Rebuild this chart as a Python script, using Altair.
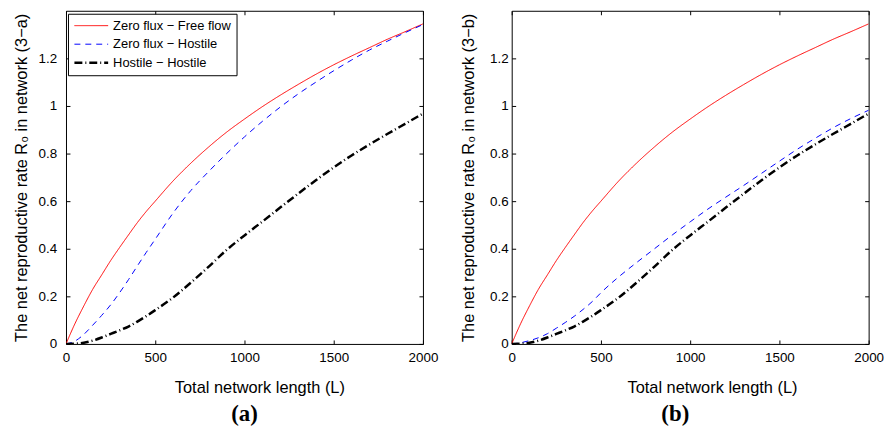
import altair as alt
import pandas as pd

# ---- data ----
L = [0, 50, 100, 150, 200, 250, 300, 350, 400, 450, 500, 600, 700, 800, 900,
     1000, 1100, 1200, 1300, 1400, 1500, 1600, 1700, 1800, 1900, 2000]

red = [0, 0.085, 0.16, 0.23, 0.29, 0.35, 0.405, 0.458, 0.51, 0.557, 0.60,
       0.685, 0.76, 0.828, 0.89, 0.945, 0.997, 1.045, 1.09, 1.133, 1.173,
       1.21, 1.245, 1.28, 1.312, 1.345]

blue_a = [0, 0.012, 0.04, 0.079, 0.12, 0.164, 0.215, 0.27, 0.328, 0.385, 0.44,
          0.55, 0.645, 0.725, 0.80, 0.87, 0.935, 0.995, 1.05, 1.10, 1.148,
          1.193, 1.235, 1.272, 1.308, 1.342]

blue_b = [0, 0.005, 0.014, 0.026, 0.043, 0.066, 0.09, 0.116, 0.145, 0.177, 0.215,
          0.282, 0.342, 0.40, 0.458, 0.513, 0.567, 0.617, 0.666, 0.717, 0.768,
          0.818, 0.864, 0.908, 0.947, 0.982]

black = [0, 0.001, 0.005, 0.014, 0.027, 0.042, 0.057, 0.073, 0.094, 0.117, 0.142,
         0.195, 0.258, 0.325, 0.395, 0.456, 0.514, 0.573, 0.631, 0.688, 0.742,
         0.792, 0.838, 0.882, 0.925, 0.968]

series = ["Zero flux \u2212 Free flow", "Zero flux \u2212 Hostile", "Hostile \u2212 Hostile"]
colors = ["#ff0000", "#0000ff", "#000000"]
dashes = [[1, 0], [6, 5], [8, 3, 1, 3]]
widths = [1, 1, 2.5]

x_ticks = [0, 500, 1000, 1500, 2000]
y_ticks = [0, 0.2, 0.4, 0.6, 0.8, 1.0, 1.2]

FONT = "Liberation Sans"


def make_df(blue):
    rows = []
    for s, vals in zip(series, [red, blue, black]):
        for l, v in zip(L, vals):
            rows.append({"L": l, "R": v, "series": s})
    return pd.DataFrame(rows)


def panel(df, ytitle, label, y_lab_pad, y_title_pad, x_title_x, label_dx):
    xs = alt.Scale(domain=[0, 2000], nice=False, zero=False)
    ys = alt.Scale(domain=[0, 1.4], nice=False, zero=False)
    leg = alt.Legend(
        title=None, orient="none", legendX=2, legendY=3,
        symbolType="stroke", symbolSize=1156, clipHeight=14,
        labelFont=FONT, labelFontSize=13,
        labelColor="black", strokeColor="black", fillColor="white",
        padding=5, rowPadding=4.7, labelOffset=3.5, labelLimit=300,
    )
    lines = alt.Chart(df).mark_line(interpolate="monotone", clip=True).encode(
        x=alt.X("L:Q", scale=xs, axis=alt.Axis(
            orient="bottom", values=x_ticks, format="d", title="Total network length (L)",
            tickSize=0, domain=False, grid=False, labelPadding=7, titlePadding=15,
            titleX=x_title_x, labelFlush=False)),
        y=alt.Y("R:Q", scale=ys, axis=alt.Axis(
            orient="left", values=y_ticks, format="~g", title=ytitle,
            tickSize=0, domain=False, grid=False, labelPadding=y_lab_pad,
            titlePadding=y_title_pad, labelFlush=False)),
        color=alt.Color("series:N", scale=alt.Scale(domain=series, range=colors), legend=leg),
        strokeDash=alt.StrokeDash("series:N", scale=alt.Scale(domain=series, range=dashes), legend=leg),
        strokeWidth=alt.StrokeWidth("series:N", scale=alt.Scale(type="ordinal", domain=series, range=widths),
                                    legend=leg),
    )
    tick_common = dict(tickSize=4, labels=False, domain=False, title=None, grid=False,
                       tickColor="black", offset=-4)
    ticks_bl = alt.Chart(df).mark_point(opacity=0).encode(
        x=alt.X("L:Q", scale=xs, axis=alt.Axis(orient="bottom", values=x_ticks, **tick_common)),
        y=alt.Y("R:Q", scale=ys, axis=alt.Axis(orient="left", values=y_ticks, **tick_common)),
    )
    ticks_tr = alt.Chart(df).mark_point(opacity=0).encode(
        x=alt.X("L:Q", scale=xs, axis=alt.Axis(orient="top", values=x_ticks, **tick_common)),
        y=alt.Y("R:Q", scale=ys, axis=alt.Axis(orient="right", values=y_ticks, **tick_common)),
    )
    return alt.layer(lines, ticks_bl, ticks_tr).resolve_axis(
        x="independent", y="independent"
    ).properties(
        width=360, height=336,
        title=alt.TitleParams(label, orient="bottom", font="Liberation Serif", fontSize=23,
                              fontWeight="bold", color="black", frame="group",
                              anchor="middle", offset=8, dx=label_dx),
    )


pa = panel(make_df(blue_a), "The net reproductive rate R\u2080 in network (3\u2212a)", "(a)",
           9.5, 9, 195, 0)
pb = panel(make_df(blue_b), "The net reproductive rate R\u2080 in network (3\u2212b)", "(b)",
           3.5, 13, 202, -15)

chart = alt.hconcat(pa, pb, spacing=21.5).properties(
    padding={"left": 4.5, "top": 0, "right": 0, "bottom": 0}
).configure_view(
    stroke="black", strokeWidth=1
).configure_axis(
    labelFont=FONT, titleFont=FONT, labelFontSize=13.5, titleFontSize=16.5,
    labelColor="black", titleColor="black", titleFontWeight="normal"
)

chart.save("out.html", embed_options={"renderer": "svg", "actions": False})
